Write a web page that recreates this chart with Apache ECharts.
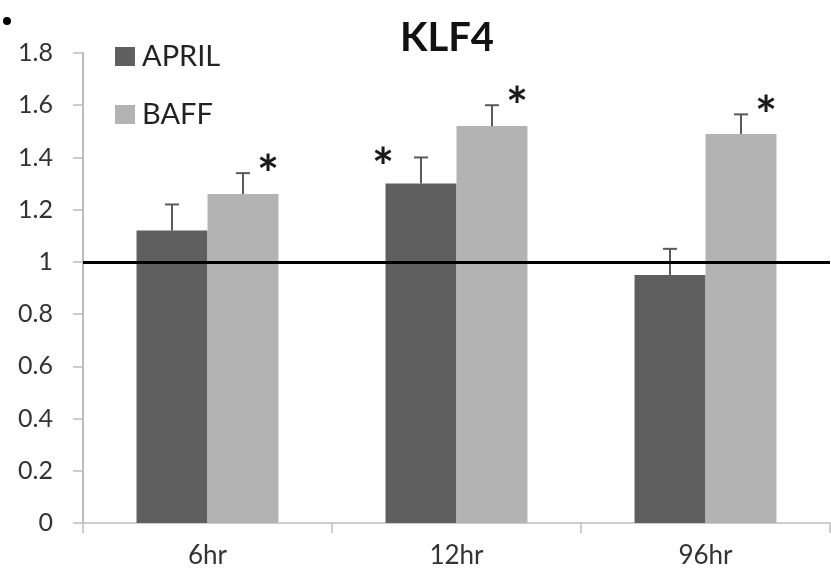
<!DOCTYPE html>
<html>
<head>
<meta charset="utf-8">
<script src="https://cdn.jsdelivr.net/npm/echarts@6/dist/echarts.min.js"></script>
<style>
  html, body { margin: 0; padding: 0; background: #ffffff; }
  #chart { width: 831px; height: 579px; }
</style>
</head>
<body>
<div id="chart"></div>
<script>
// KLF4 relative expression after APRIL / BAFF stimulation
const categories = ['6hr', '12hr', '96hr'];
const aprilValues = [1.12, 1.30, 0.95];
const aprilErrors = [0.10, 0.10, 0.10];
const baffValues = [1.26, 1.52, 1.49];
const baffErrors = [0.08, 0.08, 0.075];
const aprilSignificant = [false, true, false];
const baffSignificant = [true, true, true];
const referenceLevel = 1;
const yMin = 0, yMax = 1.8, yStep = 0.2;

const FONT = 'Lato, "Open Sans", sans-serif';
const CATEGORY_FILL = 0.57; // share of each category band covered by the bar pair

// Upper error whiskers plus significance stars, positioned on the bar they belong to
function errorSeries(name, values, errors, significant, side, starDx, starDy) {
  return {
    name: name + ' error',
    type: 'custom',
    silent: true,
    z: 5,
    data: values.map((v, i) => [i, v, errors[i], significant[i] ? 1 : 0]),
    renderItem: function (params, api) {
      const i = api.value(0);
      const v = api.value(1);
      const e = api.value(2);
      const base = api.coord([i, v]);
      const top = api.coord([i, v + e]);
      const band = api.size([1, 0])[0];
      const barW = band * CATEGORY_FILL / 2;
      const x = base[0] + side * barW / 2;
      const stroke = { stroke: '#5a5a5a', lineWidth: 2 };
      const children = [
        { type: 'line', shape: { x1: x, y1: base[1], x2: x, y2: top[1] }, style: stroke },
        { type: 'line', shape: { x1: x - 7, y1: top[1], x2: x + 7, y2: top[1] }, style: stroke }
      ];
      if (api.value(3)) {
        children.push({
          type: 'text',
          x: x + starDx,
          y: top[1] + starDy,
          style: {
            text: '*',
            fill: '#1a1a1a',
            font: 'bold 52px ' + FONT,
            textAlign: 'center',
            textVerticalAlign: 'middle'
          }
        });
      }
      return { type: 'group', children: children };
    }
  };
}

const chart = echarts.init(document.getElementById('chart'));
chart.setOption({
  backgroundColor: '#ffffff',
  animation: false,
  title: {
    text: 'KLF4',
    left: 442,
    textAlign: 'center',
    top: 13,
    textStyle: { fontFamily: FONT, fontWeight: 'bold', fontSize: 40, color: '#111111' }
  },
  legend: {
    orient: 'vertical',
    left: 110,
    top: 37,
    icon: 'rect',
    itemWidth: 20,
    itemHeight: 19,
    itemGap: 29,
    data: ['APRIL', 'BAFF'],
    textStyle: { fontFamily: FONT, fontSize: 29, color: '#222222', padding: [0, 0, 0, 2] }
  },
  grid: { left: 83, right: 1, top: 53, bottom: 56, containLabel: false },
  xAxis: {
    type: 'category',
    data: categories,
    axisLine: { lineStyle: { color: '#bdbdbd', width: 1.5 } },
    axisTick: { show: true, length: 10, lineStyle: { color: '#bdbdbd', width: 1.5 } },
    axisLabel: { fontFamily: FONT, fontSize: 26, color: '#333333', margin: 20 }
  },
  yAxis: {
    type: 'value',
    min: yMin,
    max: yMax,
    interval: yStep,
    axisLine: { show: true, lineStyle: { color: '#bdbdbd', width: 2 } },
    axisTick: { show: true, length: 10, lineStyle: { color: '#bdbdbd', width: 1.5 } },
    splitLine: { show: false },
    axisLabel: { fontFamily: FONT, fontSize: 25, color: '#333333', margin: 30 }
  },
  series: [
    {
      name: 'APRIL',
      type: 'bar',
      data: aprilValues,
      barGap: '0%',
      barCategoryGap: '43%',
      itemStyle: { color: '#5f5f5f' },
      markLine: {
        silent: true,
        symbol: 'none',
        label: { show: false },
        lineStyle: { color: '#000000', width: 3, type: 'solid' },
        data: [{ yAxis: referenceLevel }],
        z: 6
      }
    },
    {
      name: 'BAFF',
      type: 'bar',
      data: baffValues,
      barGap: '0%',
      barCategoryGap: '43%',
      itemStyle: { color: '#b3b3b3' }
    },
    errorSeries('APRIL', aprilValues, aprilErrors, aprilSignificant, -1, -38, 12),
    errorSeries('BAFF', baffValues, baffErrors, baffSignificant, 1, 25, 3)
  ],
  graphic: [
    { type: 'circle', left: 3, top: 17, shape: { r: 4 }, style: { fill: '#000000' } }
  ]
});
</script>
</body>
</html>
